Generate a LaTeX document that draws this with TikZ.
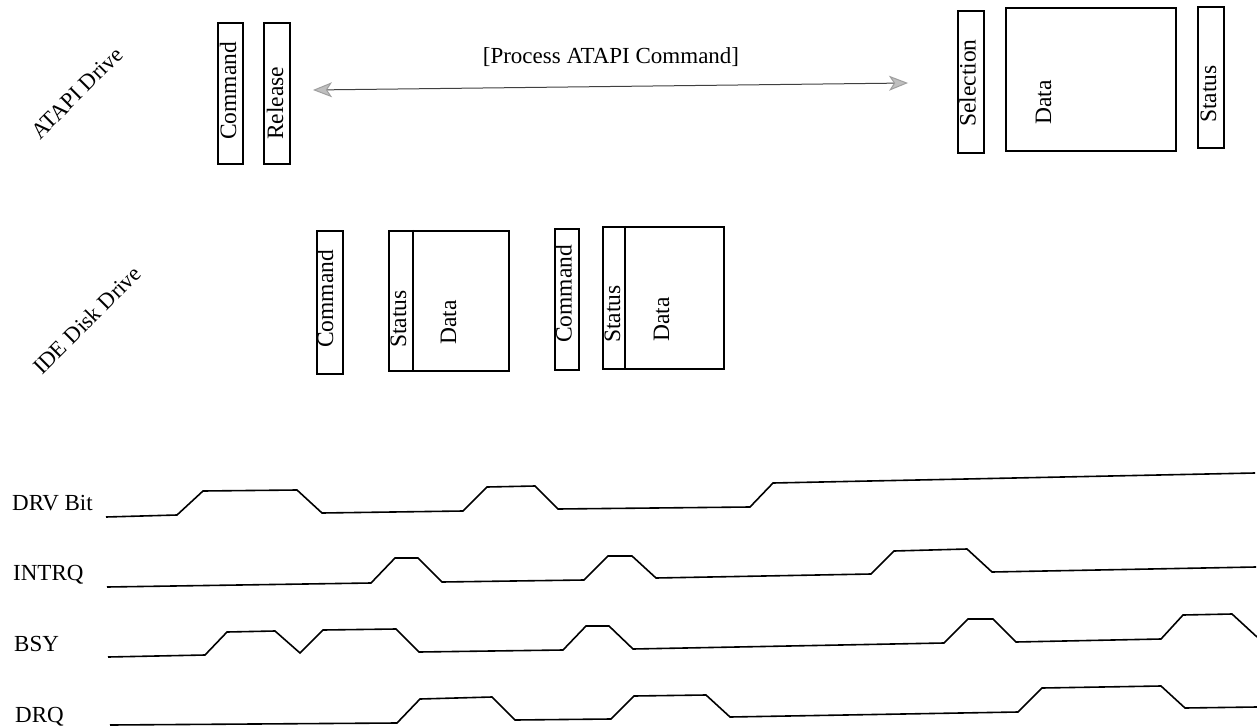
\documentclass[tikz,border=0pt]{standalone}
\usepackage{fontspec}
\setmainfont{Liberation Serif}
\usetikzlibrary{arrows.meta}
\begin{document}
\begin{tikzpicture}[x=1pt,y=-1pt,
  box/.style={draw, line width=1.6pt, inner sep=0pt, anchor=north west},
  vtext/.style={rotate=90, anchor=west, inner sep=0pt, font=\fontsize{23.5}{27}\selectfont},
  wave/.style={line width=1.6pt, line join=miter},
  siglabel/.style={anchor=base west, inner sep=0pt, font=\fontsize{23}{27}\selectfont},
  drivelabel/.style={rotate=45, inner sep=0pt, font=\fontsize{22.5}{26}\selectfont},
  divider/.style={line width=1.4pt},
  greytip/.tip={Stealth[length=19pt,width=15pt,inset=5pt,color=gray!75,fill=gray!50]}]
\useasboundingbox (0,0) rectangle (1257,727);

% drive labels
\node[drivelabel] (atapi) at (77,93) {ATAPI Drive};
\node[drivelabel] (ide) at (87,320) {IDE Disk Drive};

% ATAPI boxes
\node[box, minimum width=25pt, minimum height=141pt] (acmd) at (217,22) {};
\node[vtext] (acmdt) at (228,140) {Command};
\node[box, minimum width=26pt, minimum height=141pt] (arel) at (263,22) {};
\node[vtext] (arelt) at (275,140) {Release};

\node[box, minimum width=26pt, minimum height=142pt] (asel) at (957,10) {};
\node[vtext] (aselt) at (967.5,127) {Selection};
\node[box, minimum width=170pt, minimum height=143pt] (adata) at (1005,7) {};
\node[vtext] (adatat) at (1043.5,125) {Data};
\node[box, minimum width=26pt, minimum height=141pt] (astat) at (1197,6) {};
\node[vtext] (astatt) at (1208.5,123) {Status};

% process arrow
\node[anchor=base, inner sep=0pt, font=\fontsize{23}{27}\selectfont] (proc) at (611,64) {[Process ATAPI Command]};
\coordinate (arrL) at (313,90);
\coordinate (arrR) at (908,83);
\draw[line width=1pt, black!75, greytip-greytip] (arrL) -- (arrR);

% IDE boxes
\node[box, minimum width=26pt, minimum height=143pt] (icmd1) at (316,230) {};
\node[vtext] (icmd1t) at (325,348) {Command};
\node[box, minimum width=120pt, minimum height=140pt] (isd1) at (388,230) {};
\draw[divider] (413,230) -- (413,370);
\node[vtext] (istat1t) at (398.5,348) {Status};
\node[vtext] (idata1t) at (448.5,345) {Data};

\node[box, minimum width=24pt, minimum height=141pt] (icmd2) at (554,228) {};
\node[vtext] (icmd2t) at (563.5,343) {Command};
\node[box, minimum width=121pt, minimum height=142pt] (isd2) at (602,226) {};
\draw[divider] (625,226) -- (625,368);
\node[vtext] (istat2t) at (612.5,343) {Status};
\node[vtext] (idata2t) at (661.5,342) {Data};

% signal labels
\node[siglabel] (ldrv) at (12,510) {DRV Bit};
\node[siglabel] (lintrq) at (13,580) {INTRQ};
\node[siglabel] (lbsy) at (14,651) {BSY};
\node[siglabel] (ldrq) at (15,722) {DRQ};

% waveforms
\draw[wave] (106,517) -- (177,515) -- (203,491) -- (297,490) -- (322,513) -- (463,511) -- (487,487) -- (535,486) -- (558,509) -- (750,507) -- (773,483) -- (1255,473);
\draw[wave] (107,587) -- (371,583) -- (395,558) -- (418,558) -- (442,582) -- (584,580) -- (608,556) -- (632,556) -- (656,578) -- (871,574) -- (894,551) -- (967,549) -- (992,572) -- (1256,567);
\draw[wave] (108,657) -- (205,655) -- (227,632) -- (275,631) -- (300,653) -- (323,630) -- (396,629) -- (419,652) -- (563,650) -- (586,626) -- (609,626) -- (633,649) -- (944,643) -- (968,619) -- (993,619) -- (1016,642) -- (1161,639) -- (1183,615) -- (1232,614) -- (1257,637);
\draw[wave] (110,725) -- (397,723) -- (420,699) -- (492,697) -- (515,720) -- (611,719) -- (634,696) -- (706,695) -- (730,717) -- (1018,712) -- (1042,688) -- (1161,686) -- (1185,708) -- (1257,707);
\end{tikzpicture}
\end{document}
